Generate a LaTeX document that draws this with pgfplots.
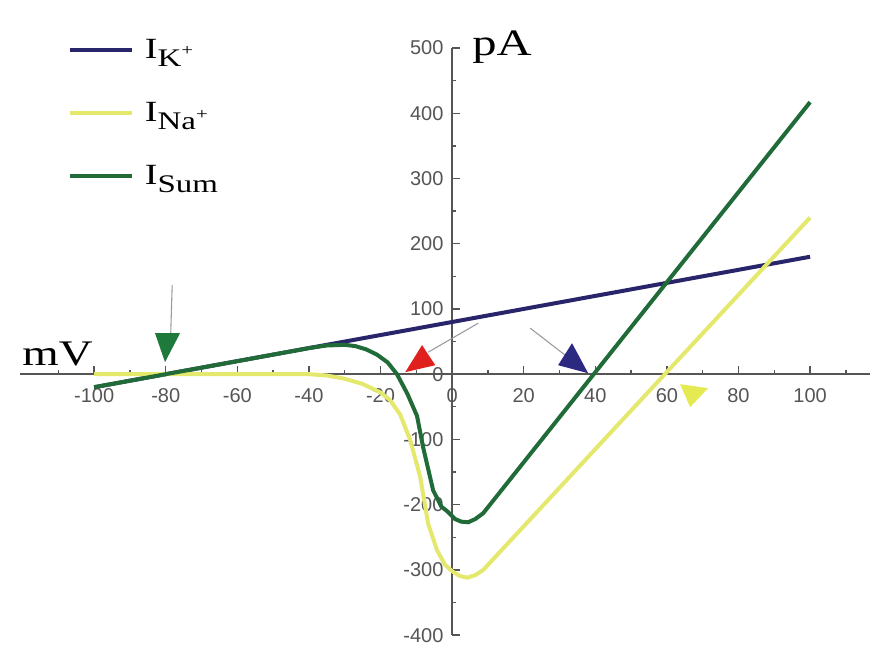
\documentclass[border=0pt]{standalone}
\usepackage{fontspec}
\setmainfont{Liberation Serif}[FakeStretch=1.3]
\newfontfamily\tickfont{Liberation Sans}
\usepackage{pgfplots}
\pgfplotsset{compat=1.18}
\definecolor{kblue}{HTML}{28256A}
\definecolor{nayel}{HTML}{E4E86C}
\definecolor{sumgr}{HTML}{206B38}
\definecolor{axgray}{HTML}{555555}
\definecolor{arrgray}{HTML}{9A9A9A}
\definecolor{redtri}{HTML}{E0201C}
\definecolor{bluetri}{HTML}{2C2A80}
\definecolor{greentri}{HTML}{1E7A3C}
\definecolor{yeltri}{HTML}{E6EA52}
\newcommand\subs[1]{\raisebox{-6pt}{\fontsize{19}{19}\selectfont #1}}
\newcommand\sups{\raisebox{8pt}{\fontsize{12}{12}\selectfont +}}
\begin{document}
\begin{tikzpicture}
\begin{axis}[
  scale only axis, width=637.5pt, height=440.25pt,
  xmin=-120.7, xmax=116.8, ymin=-400, ymax=500,
  axis lines=middle, axis line style={-, axgray, line width=1.3pt},
  xtick={-100,-80,...,100}, minor xtick={-110,-90,...,110},
  ytick={-400,-300,...,500}, minor ytick={-350,-250,...,450},
  hide obscured x ticks=false, hide obscured y ticks=false,
  tick align=inside,
  major tick length=6pt, minor tick length=3pt,
  tick style={axgray, line width=1pt},
  /pgf/number format/assume math mode=true,
  ticklabel style={font=\tickfont\fontsize{15}{15}\selectfont, text=axgray},
  xticklabel style={anchor=north, yshift=-7pt},
  yticklabel style={anchor=east, xshift=-3pt},
  xlabel={\fontsize{27}{27}\selectfont mV},
  ylabel={\fontsize{28}{28}\selectfont pA},
  every axis x label/.style={at={(axis cs:-120.1,13.8)}, anchor=base west, inner sep=0pt},
  every axis y label/.style={at={(axis cs:5.6,489)}, anchor=base west, inner sep=0pt},
  clip=false,
  legend cell align=left,
  legend style={at={(axis cs:-107.3,518)}, anchor=north west, draw=none, fill=none,
    inner sep=0pt, row sep=16pt, column sep=6pt,
    font=\fontsize{22}{22}\selectfont},
  legend image code/.code={\draw[#1, line width=3pt] (0pt,0pt) -- (46.5pt,0pt); \path (0pt,-20pt);},
]
\addplot[kblue, line width=3pt] coordinates {(-100,-20) (100,180)};
\addlegendentry{I\subs{K\sups}}
\addplot[nayel, line width=3pt] coordinates {
(-100,0) (-40,0) (-35,-2) (-30,-7) (-25,-15) (-20,-28) (-17.3,-40) (-14.5,-62)
(-11.7,-101) (-8.9,-158) (-6.7,-229) (-4.2,-270) (-2,-292) (0,-302) (2,-309)
(4.2,-312) (6.5,-308) (8.7,-300) (100,240)};
\addlegendentry{I\subs{Na\sups}}
\addplot[sumgr, line width=3pt] coordinates {
(-100,-20) (-80,0) (-60,20) (-40,40) (-35,44) (-30,45) (-27,43) (-24,38)
(-21,30) (-18,18) (-15.4,0) (-12.5,-30) (-9.8,-64) (-8.1,-112) (-5.3,-178)
(-3,-203) (-1.4,-210) (0.8,-222) (2.5,-226) (4.5,-227) (6.5,-222) (8.7,-213) (100,417)};
\addlegendentry{I\subs{Sum}}
% annotation arrows
\addplot[arrgray, line width=0.8pt, forget plot] coordinates {(-78.2,136.5) (-78.6,62.9)};
\addplot[greentri, fill=greentri, draw=none, forget plot] coordinates {(-83.0,62.9) (-76.0,62.9) (-80.2,18.4)};
\addplot[arrgray, line width=0.8pt, forget plot] coordinates {(7.3,78.2) (-6.7,33.7)};
\addplot[redtri, fill=redtri, draw=none, forget plot] coordinates {(-13.1,3.1) (-8.4,44.5) (-4.7,13.8)};
\addplot[arrgray, line width=0.8pt, forget plot] coordinates {(21.8,70.6) (31.6,29.1)};
\addplot[bluetri, fill=bluetri, draw=none, forget plot] coordinates {(33.5,47.5) (29.6,13.8) (38.0,1.5)};
\addplot[yeltri, fill=yeltri, draw=none, forget plot] coordinates {(63.7,-15.3) (71.5,-21.5) (66.5,-50.6)};
\coordinate (bbl) at (axis cs:-126.3,-423.3);
\coordinate (btr) at (axis cs:117.3,573.6);
\end{axis}
\pgfresetboundingbox
\useasboundingbox (bbl) rectangle (btr);
\end{tikzpicture}
\end{document}
